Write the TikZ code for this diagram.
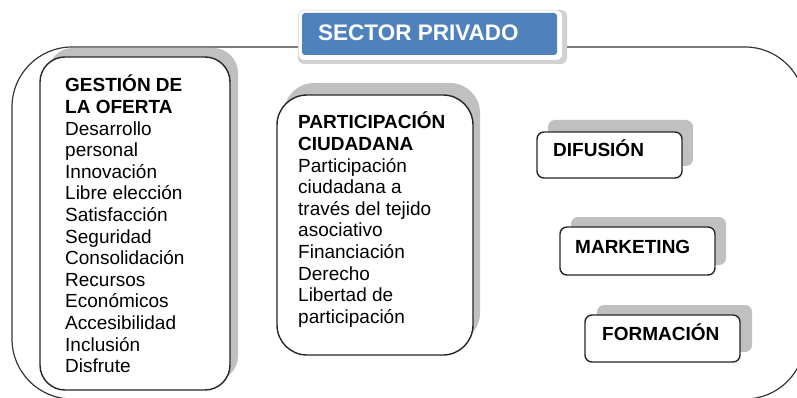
\documentclass[tikz,border=0pt]{standalone}
\usepackage{fontspec}
\setmainfont{Liberation Sans}
\usetikzlibrary{shadows}
\definecolor{titleblue}{RGB}{79,129,189}
\definecolor{shadowgray}{RGB}{192,192,192}
\definecolor{outerline}{RGB}{55,55,55}
\begin{document}
\begin{tikzpicture}[x=1pt,y=-1pt,
  outerbox/.style={draw=outerline, line width=1.2pt, rounded corners=60pt, fill=white},
  panel/.style={draw=black!85, line width=1.4pt, fill=white, inner sep=0pt},
  sh/.style 2 args={drop shadow={shadow xshift=#1pt, shadow yshift=#2pt, fill=shadowgray, opacity=1, draw=none}},
  txt/.style={inner sep=0pt, font=\fontsize{19}{21.6}\selectfont, text=black},
  titletxt/.style={inner sep=0pt, font=\fontsize{22.5}{24}\selectfont\bfseries, text=white}
]
\useasboundingbox (0,0) rectangle (797,398);
\fill[white] (0,0) rectangle (797,398);
\begin{scope}
  \clip (0,0) rectangle (797,398);
  \draw[outerbox] (12,47) rectangle (805,399);
\end{scope}

% title
\fill[black!18, rounded corners=6pt] (298,10) rectangle (567,64);
\fill[white, rounded corners=6pt] (298.5,10.5) rectangle (562,60);
\node[fill=titleblue, rounded corners=3pt, minimum width=255pt, minimum height=42pt, inner sep=0pt] (title) at (429.5,34) {};
\node[titletxt, anchor=base west] (titletext) at (318,41) {SECTOR PRIVADO};

% left panel
\node[panel, rounded corners=25pt, minimum width=190pt, minimum height=333pt, sh={8}{9}] (gest) at (135,223.5) {};
\node[txt, anchor=base west] (gesttext) at (65,92) {\begin{tabular}[t]{@{}l@{}}\textbf{GESTIÓN DE}\\ \textbf{LA OFERTA}\\ Desarrollo\\ personal\\ Innovación\\ Libre elección\\ Satisfacción\\ Seguridad\\ Consolidación\\ Recursos\\ Económicos\\ Accesibilidad\\ Inclusión\\ Disfrute\end{tabular}};

% middle panel
\node[panel, rounded corners=30pt, minimum width=196pt, minimum height=260pt, sh={7}{12}] (part) at (375,225) {};
\node[txt, anchor=base west] (parttext) at (298,129) {\begin{tabular}[t]{@{}l@{}}\textbf{PARTICIPACIÓN}\\ \textbf{CIUDADANA}\\ Participación\\ ciudadana a\\ través del tejido\\ asociativo\\ Financiación\\ Derecho\\ Libertad de\\ participación\end{tabular}};

% right boxes
\node[panel, rounded corners=7pt, minimum width=145pt, minimum height=46pt, sh={11}{12}] (dif) at (609.5,155) {};
\node[txt, anchor=base west, font=\fontsize{19}{21.6}\selectfont\bfseries] (diftext) at (553,157) {DIFUSIÓN};

\node[panel, rounded corners=7pt, minimum width=155pt, minimum height=48pt, sh={11}{10}] (mkt) at (637.5,251) {};
\node[txt, anchor=base west, font=\fontsize{19}{21.6}\selectfont\bfseries] (mkttext) at (575,253) {MARKETING};

\node[panel, rounded corners=7pt, minimum width=155pt, minimum height=47pt, sh={12}{10}] (for) at (662.5,338.5) {};
\node[txt, anchor=base west, font=\fontsize{19}{21.6}\selectfont\bfseries] (fortext) at (602,340) {FORMACIÓN};
\end{tikzpicture}
\end{document}
